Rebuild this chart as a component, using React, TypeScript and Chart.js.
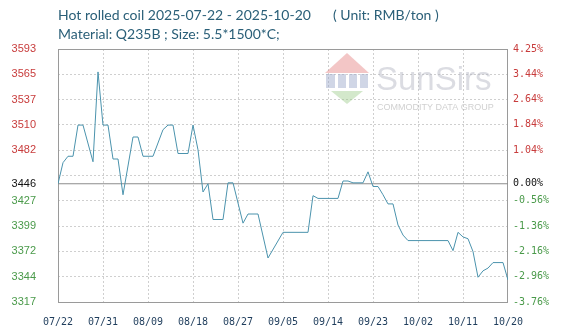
import React, { useEffect, useRef } from "react";
import { Chart, registerables } from "chart.js";

Chart.register(...registerables);

// ---- data ----
const dayOffsets = [
  0, 1, 2, 3, 4, 5, 7, 8, 9, 10, 11, 12, 13, 15, 16, 17, 19, 21, 22, 23, 24, 26, 27, 28, 29, 30,
  31, 33, 34, 35, 37, 38, 40, 42, 45, 50, 51, 52, 56, 57, 58, 59, 61, 62, 63, 64, 65, 66, 67, 68,
  69, 70, 78, 79, 80, 81, 82, 83, 84, 85, 86, 87, 89, 90,
];
const prices = [
  3446, 3469, 3476, 3476, 3510, 3510, 3470, 3568, 3510, 3510, 3473, 3473, 3434, 3497, 3497, 3476,
  3476, 3505, 3510, 3510, 3479, 3479, 3510, 3483, 3437, 3446, 3407, 3407, 3447, 3447, 3403, 3413,
  3413, 3365, 3393, 3393, 3433, 3430, 3430, 3449, 3449, 3447, 3447, 3459, 3443, 3443, 3434, 3424,
  3424, 3401, 3390, 3384, 3384, 3373, 3393, 3388, 3386, 3372, 3344, 3351, 3354, 3360, 3360, 3341,
];
const xTickDays = [0, 9, 18, 27, 36, 45, 54, 63, 72, 81, 90];
const xTickLabels = ["07/22", "07/31", "08/09", "08/18", "08/27", "09/05", "09/14", "09/23", "10/02", "10/11", "10/20"];
const yTickValues = [3317, 3344.6, 3372.2, 3399.8, 3427.4, 3446, 3455, 3482.6, 3510.2, 3537.8, 3565.4, 3593];
const leftTickLabels = ["3317", "3344", "3372", "3399", "3427", "3446", "", "3482", "3510", "3537", "3565", "3593"];
const rightTickLabels = ["-3.76%", "-2.96%", "-2.16%", "-1.36%", "-0.56%", "0.00%", "", "1.04%", "1.84%", "2.64%", "3.44%", "4.25%"];
const basePrice = 3446;
const yMin = 3317;
const yMax = 3593;
const xMin = 0;
const xMax = 90;

const titleText = "Hot rolled coil 2025-07-22 - 2025-10-20";
const unitText = "( Unit: RMB/ton )";
const subtitleText = "Material: Q235B ; Size: 5.5*1500*C;";

const RED = "#c83c3c";
const GREEN = "#4a9a4a";

function tickColor(index: number) {
  const v = yTickValues[index];
  if (v === basePrice) return "#111111";
  return v > basePrice ? RED : GREEN;
}

const framePlugin = {
  id: "frameAndWatermark",
  beforeDatasetsDraw(chart: any) {
    const { ctx, chartArea } = chart;
    const { left, top, right, bottom } = chartArea;
    ctx.save();
    // watermark logo
    const cx = left + 289;
    ctx.fillStyle = "rgba(226,120,120,0.42)";
    ctx.beginPath();
    ctx.moveTo(cx - 22, top + 24);
    ctx.lineTo(cx, top + 4);
    ctx.lineTo(cx + 22, top + 24);
    ctx.closePath();
    ctx.fill();
    ctx.fillStyle = "rgba(150,165,200,0.45)";
    ctx.fillRect(cx - 21, top + 25, 9, 14);
    ctx.fillRect(cx - 9, top + 25, 8, 14);
    ctx.fillRect(cx + 2, top + 25, 8, 14);
    ctx.fillRect(cx + 13, top + 25, 8, 14);
    ctx.fillStyle = "rgba(150,200,130,0.42)";
    ctx.beginPath();
    ctx.moveTo(cx - 16, top + 42);
    ctx.lineTo(cx + 16, top + 42);
    ctx.lineTo(cx, top + 55);
    ctx.closePath();
    ctx.fill();
    ctx.fillStyle = "rgba(175,178,190,0.45)";
    ctx.font = '33px "Liberation Sans"';
    ctx.textBaseline = "alphabetic";
    ctx.fillText("SunSirs", left + 318, top + 41);
    ctx.fillStyle = "rgba(170,170,170,0.55)";
    ctx.font = '9px "Liberation Sans"';
    ctx.fillText("COMMODITY DATA GROUP", left + 319, top + 61);
    // frame
    ctx.strokeStyle = "#9a9a9a";
    ctx.lineWidth = 1;
    ctx.strokeRect(left + 0.5, top + 0.5, right - left - 1, bottom - top);
    ctx.restore();
  },
};

export default function App() {
  const canvasRef = useRef<HTMLCanvasElement | null>(null);

  useEffect(() => {
    document.body.style.margin = "0";
    const canvas = canvasRef.current;
    if (!canvas) return;
    const mainData = dayOffsets.map((d, i) => ({ x: d, y: prices[i] }));
    const baseData = [
      { x: xMin, y: basePrice },
      { x: xMax, y: basePrice },
    ];
    const gridDash = [2, 2];
    const chart = new Chart(canvas, {
      type: "line",
      data: {
        datasets: [
          {
            data: mainData,
            borderColor: "#4b93ad",
            borderWidth: 1,
            pointRadius: 0,
            tension: 0,
            fill: false,
          },
          {
            data: baseData,
            borderColor: "#8c8c8c",
            borderWidth: 1,
            pointRadius: 0,
            fill: false,
          },
        ],
      },
      options: {
        animation: false,
        responsive: false,
        maintainAspectRatio: false,
        parsing: false,
        layout: { padding: { top: 49, left: 0, right: 0, bottom: 0 } },
        plugins: { legend: { display: false }, tooltip: { enabled: false }, title: { display: false } },
        scales: {
          x: {
            type: "linear",
            min: xMin,
            max: xMax,
            afterBuildTicks: (axis: any) => {
              axis.ticks = xTickDays.map((v) => ({ value: v }));
            },
            afterFit: (axis: any) => {
              axis.height = 31;
            },
            border: { display: false, dash: gridDash },
            grid: {
              drawTicks: false,
              color: (c: any) => (c.index === 0 || c.index === xTickDays.length - 1 ? "rgba(0,0,0,0)" : "#cfcfcf"),
              lineWidth: 1,
            },
            ticks: {
              autoSkip: false,
              maxRotation: 0,
              padding: 14,
              color: "#1f3d5c",
              font: { family: '"DejaVu Sans Mono"', size: 10 },
              callback: (_v: any, i: number) => xTickLabels[i],
            },
          },
          y: {
            type: "linear",
            position: "left",
            min: yMin,
            max: yMax,
            afterBuildTicks: (axis: any) => {
              axis.ticks = yTickValues.map((v) => ({ value: v }));
            },
            afterFit: (axis: any) => {
              axis.width = 58;
            },
            border: { display: false, dash: gridDash },
            grid: {
              drawTicks: false,
              color: (c: any) => {
                const v = yTickValues[c.index];
                return v === basePrice || v === yMin || v === yMax ? "rgba(0,0,0,0)" : "#cfcfcf";
              },
              lineWidth: 1,
            },
            ticks: {
              padding: 22,
              color: (c: any) => tickColor(c.index),
              font: { family: '"Liberation Sans"', size: 11 },
              callback: (_v: any, i: number) => leftTickLabels[i],
            },
          },
          y2: {
            type: "linear",
            position: "right",
            min: yMin,
            max: yMax,
            afterBuildTicks: (axis: any) => {
              axis.ticks = yTickValues.map((v) => ({ value: v }));
            },
            afterFit: (axis: any) => {
              axis.width = 68;
            },
            border: { display: false },
            grid: { display: false, drawTicks: false },
            ticks: {
              padding: 5,
              color: (c: any) => tickColor(c.index),
              font: { family: '"DejaVu Sans Mono"', size: 10 },
              callback: (_v: any, i: number) => rightTickLabels[i],
            },
          },
        },
      },
      plugins: [framePlugin],
    } as any);
    return () => chart.destroy();
  }, []);

  const titleStyle: React.CSSProperties = {
    position: "absolute",
    fontFamily: '"Lato", "Liberation Sans", sans-serif',
    fontSize: "14px",
    color: "#2a5f78",
    whiteSpace: "pre",
    lineHeight: "16px",
  };

  return (
    <div style={{ position: "relative", width: 576, height: 333, background: "#ffffff", overflow: "hidden" }}>
      <canvas ref={canvasRef} width={576} height={333} style={{ position: "absolute", left: 0, top: 0 }} />
      <div style={{ ...titleStyle, left: 58, top: 7 }}>{titleText}</div>
      <div style={{ ...titleStyle, left: 333, top: 7 }}>{unitText}</div>
      <div style={{ ...titleStyle, left: 58, top: 26 }}>{subtitleText}</div>
    </div>
  );
}
